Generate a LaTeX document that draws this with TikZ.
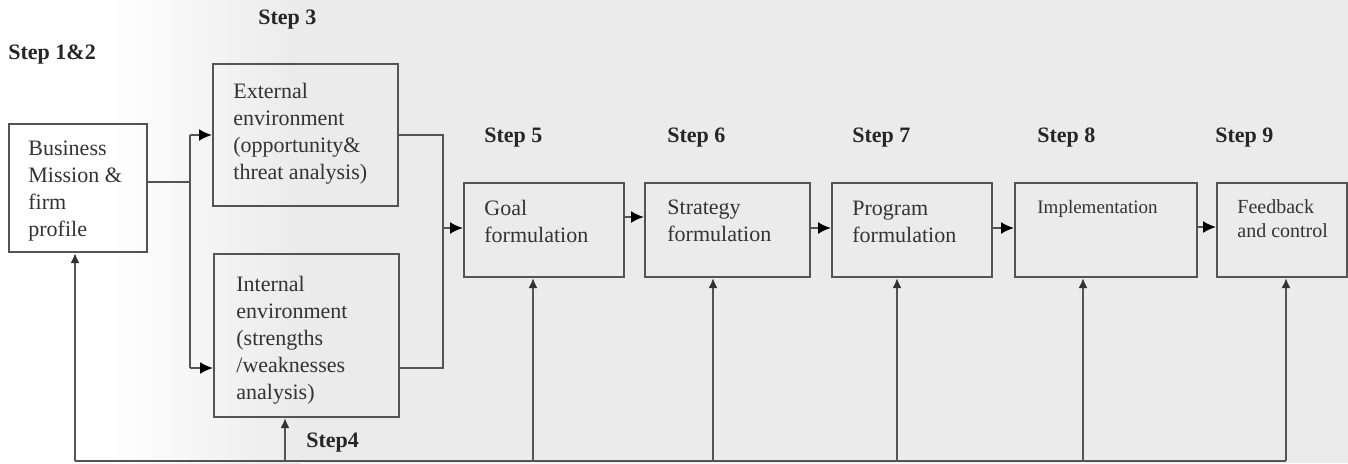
\documentclass[tikz,border=0pt]{standalone}
\usepackage{fontspec}
\setmainfont{Liberation Serif}
\usetikzlibrary{arrows.meta}
\definecolor{bg}{gray}{0.92}
\definecolor{ln}{gray}{0.33}
\tikzset{
 box/.style={draw=ln, line width=1pt, rectangle, inner sep=0pt, anchor=north west},
 txt/.style={anchor=north west, inner sep=0pt, align=left, font=\fontsize{11}{13.5}\selectfont, text=black!80},
 steplbl/.style={anchor=west, inner sep=0pt, font=\fontsize{11}{13}\selectfont\bfseries, text=black!85},
 conn/.style={draw=ln, line width=1pt},
 arr/.style={conn, -{Latex[length=6.5pt,width=6pt,color=black]}},
 uparr/.style={conn, -{Latex[length=5pt,width=4.5pt,color=black!80]}},
}
\begin{document}
\begin{tikzpicture}[x=0.5pt,y=-0.5pt]
\useasboundingbox (0,0) rectangle (1348,463);
\fill[bg] (0,0) rectangle (1348,463);
\fill[white] (0,0) rectangle (110,463);
\shade[left color=white, right color=bg] (109,0) rectangle (300,463);

% boxes
\node[box, minimum width=69pt, minimum height=64pt] (biz) at (8,123) {};
\node[box, minimum width=92.5pt, minimum height=71pt] (ext) at (212,63) {};
\node[box, minimum width=92.5pt, minimum height=81.5pt] (int) at (213,253) {};
\node[box, minimum width=80pt, minimum height=47pt] (goal) at (463,182) {};
\node[box, minimum width=82.5pt, minimum height=47pt] (strat) at (644,182) {};
\node[box, minimum width=80pt, minimum height=47pt] (prog) at (831,182) {};
\node[box, minimum width=91pt, minimum height=47pt] (impl) at (1014,182) {};
\node[box, minimum width=65pt, minimum height=47pt] (fb) at (1216,182) {};

% box texts
\node[txt] (tbiz) at (28,141) {Business\\Mission \&\\firm\\profile};
\node[txt] (text) at (233,83) {External\\environment\\(opportunity\&\\threat analysis)};
\node[txt] (tint) at (236,276) {Internal\\environment\\(strengths\\/weaknesses\\analysis)};
\node[txt] (tgoal) at (484,200) {Goal\\formulation};
\node[txt] (tstrat) at (667,200) {Strategy\\formulation};
\node[txt] (tprog) at (852,201) {Program\\formulation};
\node[txt, font=\fontsize{9.5}{12}\selectfont] (timpl) at (1037,200) {Implementation};
\node[txt, font=\fontsize{10}{12}\selectfont] (tfb) at (1237,199) {Feedback\\and control};

% step labels
\node[steplbl] (s12) at (8,55) {Step 1\&2};
\node[steplbl] (s3) at (258,20) {Step 3};
\node[steplbl] (s5) at (484,138) {Step 5};
\node[steplbl] (s6) at (667,138) {Step 6};
\node[steplbl] (s7) at (852,138) {Step 7};
\node[steplbl] (s8) at (1037,138) {Step 8};
\node[steplbl] (s9) at (1215,138) {Step 9};
\node[steplbl] (s4) at (306,443) {Step4};

% branching from business
\coordinate (bizout) at (146,182);
\coordinate (brA) at (190,182);
\coordinate (brT) at (190,135);
\coordinate (brB) at (190,368);
\draw[conn] (bizout) -- (brA);
\draw[conn] (brT) -- (brB);
\draw[arr] (brT) -- (brT -| ext.west);
\draw[arr] (brB) -- (brB -| int.west);

% merging into goal
\coordinate (mT) at (443,135);
\coordinate (mB) at (443,368);
\coordinate (mG) at (443,228);
\draw[conn] (mT -| ext.east) -- (mT) -- (mB) -- (mB -| int.east);
\draw[arr] (mG) -- (mG -| goal.west);

% chain
\coordinate (c1) at (623,217);
\coordinate (c2) at (809,228);
\coordinate (c3) at (991,228);
\coordinate (c4) at (1196,227);
\draw[arr] (c1) -- (c1 -| strat.west);
\draw[arr] (c2) -- (c2 -| prog.west);
\draw[arr] (c3) -- (c3 -| impl.west);
\draw[arr] (c4) -- (c4 -| fb.west);

% feedback loop
\coordinate (fB) at (75,461);
\coordinate (fI) at (285,461);
\coordinate (fG) at (533,461);
\coordinate (fS) at (713,461);
\coordinate (fP) at (897,461);
\coordinate (fM) at (1083,461);
\coordinate (fF) at (1286,461);
\draw[conn] (fB) -- (fF);
\draw[uparr] (fB) -- (fB |- biz.south);
\draw[uparr] (fI) -- (fI |- int.south);
\draw[uparr] (fG) -- (fG |- goal.south);
\draw[uparr] (fS) -- (fS |- strat.south);
\draw[uparr] (fP) -- (fP |- prog.south);
\draw[uparr] (fM) -- (fM |- impl.south);
\draw[uparr] (fF) -- (fF |- fb.south);
\end{tikzpicture}
\end{document}
